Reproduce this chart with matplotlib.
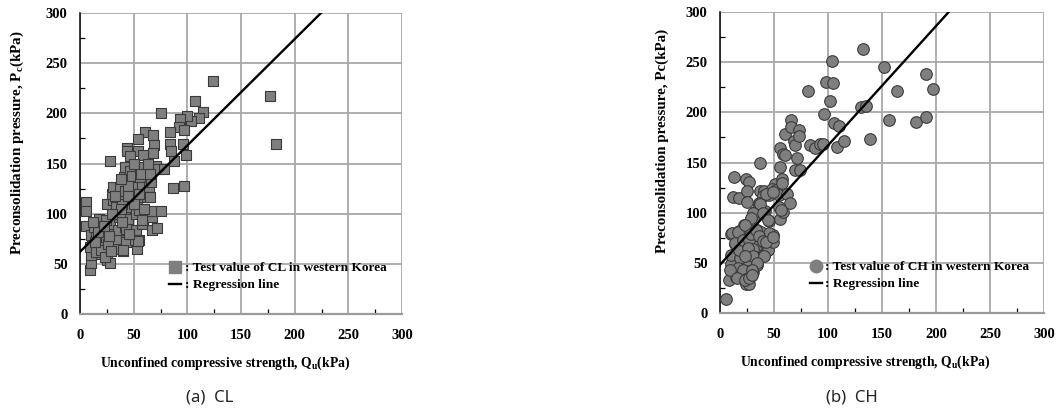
import matplotlib
matplotlib.use("Agg")
import matplotlib.pyplot as plt
from matplotlib.lines import Line2D
from matplotlib.ticker import MultipleLocator
import numpy as np

# ---- CL (lean clay) test data: unconfined compressive strength vs preconsolidation pressure
cl_qu = [123.5, 177, 183, 107, 115, 111, 103, 100, 93, 92, 97, 96, 99, 97, 87, 84, 84, 85, 88, 75,
         61, 68, 69, 68, 54, 54, 59, 44, 44, 28, 6, 6, 6, 9, 10, 10, 11, 10, 13, 18,
         19, 20, 22, 23, 25, 28, 20, 26, 31, 28, 25, 31, 30, 31, 37, 36, 34, 36, 35, 35,
         40, 34, 43, 42, 42, 41, 42, 41, 42, 47, 47, 48, 47, 45, 43, 43, 52, 52, 48, 52,
         53, 55, 56, 56, 58, 60, 55, 53, 59, 58, 62, 64, 62, 65, 66, 68, 67, 67, 67, 72,
         75, 71, 73, 78, 9, 15, 15, 20, 17, 24, 26, 37, 39, 47, 23, 40, 51, 57.5, 54, 33,
         38, 45, 50, 57, 63, 50, 55, 45, 39, 30, 27, 14, 22, 60, 46, 65, 38, 12, 29]
cl_pc = [232, 217, 169, 212, 201, 195, 192, 197, 194, 186, 183, 169, 158, 128, 126, 181, 169, 162, 152, 200,
         181, 178, 168, 160, 174, 162, 158, 165, 162, 152, 112, 103, 88, 44, 51, 59, 69, 79, 87, 95,
         84, 75, 67, 57, 54, 51, 60, 67, 80, 90, 110, 114, 120, 127, 127, 114, 107, 97, 84, 74,
         63, 65, 74, 87, 100, 114, 123, 137, 147, 143, 132, 120, 107, 95, 85, 72, 84, 100, 138, 127,
         114, 104, 147, 137, 127, 117, 74, 65, 92, 90, 140, 127, 117, 117, 132, 147, 84, 97, 103, 86,
         103, 148, 145, 145, 67, 77, 62, 64, 82, 94, 70, 100, 110, 157, 56.5, 64, 74, 94, 73, 118,
         105, 128, 110, 140, 150, 150, 120, 118, 92, 100, 78, 72, 88, 105, 80, 140, 135, 92, 63]

# ---- CH (fat clay) test data
ch_qu = [5.5, 8.6, 10, 10.5, 10, 13.6, 12.6, 12, 18, 24, 27, 25, 25, 37, 37, 41, 40, 45, 36, 36,
         32, 31, 42, 45, 22, 18, 18.5, 22, 24, 27, 28, 33, 34, 38, 32, 31, 29, 25, 24, 20,
         18.5, 17, 15, 21.6, 24, 24, 27, 29, 31, 34.5, 32, 34, 41, 42, 44, 40, 49, 49, 45.6, 51,
         48, 52, 55, 55.5, 55.5, 58, 60, 57, 55, 55.5, 58.6, 61.7, 65, 60, 65.4, 66, 68.8, 69.6, 71, 69.6,
         74, 73, 73.4, 81.7, 83, 88, 93, 95.6, 96.6, 97.7, 101.7, 104, 104.8, 105.7, 108, 110, 115, 132.6, 131, 135.6,
         138.7, 152, 156.6, 164, 181.6, 190.5, 191, 197, 43, 49, 57, 37, 30.6, 29, 40, 44.4, 56.5, 10.8,
         17, 23, 13.9, 17.6, 21.3, 26.9, 29, 33.3, 36.4, 30.8, 26, 30.9, 23, 39.5, 42.6, 48.8, 41, 34, 29.3, 9.3,
         15.4, 23, 27, 29.3]
ch_pc = [14, 33, 49, 58, 79, 69, 136, 116, 115, 134, 131, 122, 111, 150, 122, 122, 117, 118, 110, 107,
         101, 94, 102, 92, 88, 82, 73, 66, 65, 72, 80, 80, 83, 81, 75, 65, 60, 53, 58, 62,
         55, 45, 36, 43, 34, 29, 29, 37, 41, 48, 56, 68, 58, 70, 63, 73, 78, 71, 80, 129,
         124, 123, 118, 146, 164, 158, 157, 134, 106, 94, 101, 119, 110, 178, 192, 185, 171, 167, 154, 143,
         143, 182, 176, 221, 167, 164, 168, 168, 198, 230, 211, 251, 229, 189, 165, 186, 171, 263, 205, 206,
         173, 245, 192, 221, 190, 238, 195, 223, 118.6, 121, 130, 108.6, 99.7, 94.7, 100, 92.7, 103, 79.4,
         81, 87.7, 70, 62.8, 73, 72.8, 79, 82.7, 76.7, 63.5, 65, 56.8, 56.8, 72, 71, 76, 56.8, 49.5, 42.9, 43,
         34.6, 32.9, 34.6, 37.9]

# regression lines Pc = slope * Qu + intercept
cl_fit = (1.06, 62.0)
ch_fit = (1.19, 48.0)

ticks = [0, 50, 100, 150, 200, 250, 300]

SERIF = "Liberation Serif"
plt.rcParams["mathtext.fontset"] = "custom"
plt.rcParams["mathtext.rm"] = "Liberation Serif:bold"
plt.rcParams["mathtext.bf"] = "Liberation Serif:bold"
plt.rcParams["mathtext.it"] = "Liberation Serif:bold"

fig = plt.figure(figsize=(10.6, 4.13), dpi=100)
ax1 = fig.add_axes([80 / 1060, 99 / 413, 322 / 1060, 301 / 413])
ax2 = fig.add_axes([720 / 1060, 100 / 413, 324 / 1060, 301 / 413])


def style_axes(ax):
    ax.set_xlim(0, 300)
    ax.set_ylim(0, 300)
    ax.set_xticks(ticks)
    ax.set_yticks(ticks)
    ax.xaxis.set_minor_locator(MultipleLocator(25))
    ax.yaxis.set_minor_locator(MultipleLocator(25))
    ax.grid(True, which="major", color="#a8a8a8", lw=1.3)
    ax.set_axisbelow(True)
    ax.tick_params(which="major", length=0)
    ax.tick_params(axis="x", which="major", pad=11)
    ax.tick_params(axis="y", which="major", pad=9)
    ax.tick_params(which="minor", direction="in", length=3.5, width=0.9, color="black")
    for lab in ax.get_xticklabels() + ax.get_yticklabels():
        lab.set_fontfamily(SERIF)
        lab.set_fontweight("bold")
        lab.set_fontsize(10.5)
    ax.spines["top"].set_visible(False)
    ax.spines["right"].set_visible(False)
    ax.spines["left"].set_color("black")
    ax.spines["left"].set_linewidth(1.1)
    ax.spines["bottom"].set_color("#9a9a9a")
    ax.spines["bottom"].set_linewidth(1.6)


xlabel_kw = dict(fontfamily=SERIF, fontweight="bold", fontsize=9.8)
ylabel_kw = dict(fontfamily=SERIF, fontweight="bold", fontsize=10.8)

for ax, qu, pc, fit, marker, soil, ylab in [
    (ax1, cl_qu, cl_pc, cl_fit, "s", "CL", r"Preconsolidation pressure, P$_\mathrm{c}$(kPa)"),
    (ax2, ch_qu, ch_pc, ch_fit, "o", "CH", "Preconsolidation pressure, Pc(kPa)"),
]:
    style_axes(ax)
    ax.scatter(qu, pc, marker=marker, s=60 if marker == "s" else 70,
               facecolor="#7f7f7f", edgecolor="#3a3a3a", linewidth=0.8, zorder=3)
    xs = np.array([0, 300])
    ax.plot(xs, fit[0] * xs + fit[1], color="black", lw=1.7, zorder=4)
    ax.set_xlabel(r"Unconfined compressive strength, Q$_\mathrm{u}$(kPa)", **xlabel_kw)
    ax.set_ylabel(ylab, **ylabel_kw)
    handles = [
        Line2D([], [], ls="none", marker=marker, markersize=8.5 if marker == "s" else 9,
               markerfacecolor="#7f7f7f", markeredgecolor="#7f7f7f"),
        Line2D([], [], color="black", lw=1.7),
    ]
    ax.legend(handles, [": Test value of %s in western Korea" % soil, ": Regression line"],
              loc="lower left", bbox_to_anchor=(0.24, 0.035), frameon=False,
              handlelength=0.9, handletextpad=0.25, labelspacing=0.35,
              prop=dict(family=SERIF, weight="bold", size=9.6))

ax1.xaxis.set_label_coords(0.45, -0.135)
ax2.xaxis.set_label_coords(0.4475, -0.135)
ax1.yaxis.set_label_coords(-0.168, 0.57)
ax2.yaxis.set_label_coords(-0.158, 0.57)

fig.text(209.5 / 1060, 15 / 413, "(a)  CL", ha="center", va="center",
         fontfamily="Noto Sans", fontsize=12, color="#222222")
fig.text(852 / 1060, 15 / 413, "(b)  CH", ha="center", va="center",
         fontfamily="Noto Sans", fontsize=12, color="#222222")

fig.savefig("out.png", dpi=100)
